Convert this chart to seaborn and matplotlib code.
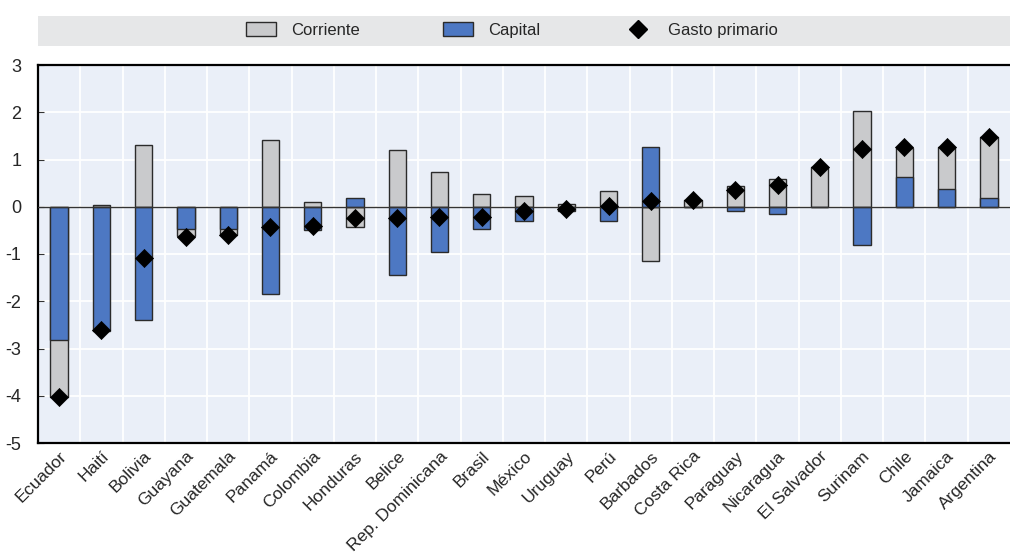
import pandas as pd
import seaborn as sns
from matplotlib import pyplot as plt
from matplotlib.patches import Patch, Rectangle
from matplotlib.lines import Line2D

OUT = 'out.png'

paises = ['Ecuador', 'Haití', 'Bolivia', 'Guayana', 'Guatemala', 'Panamá', 'Colombia',
          'Honduras', 'Belice', 'Rep. Dominicana', 'Brasil', 'México', 'Uruguay', 'Perú',
          'Barbados', 'Costa Rica', 'Paraguay', 'Nicaragua', 'El Salvador', 'Surinam',
          'Chile', 'Jamaica', 'Argentina']
corriente = [-1.20, 0.03, 1.30, -0.14, -0.12, 1.42, 0.10, -0.42, 1.21, 0.73, 0.28, 0.22,
             0.05, 0.33, -1.14, 0.15, 0.44, 0.59, 0.84, 2.03, 0.62, 0.89, 1.29]
capital = [-2.82, -2.64, -2.39, -0.47, -0.47, -1.84, -0.50, 0.18, -1.45, -0.95, -0.48, -0.30,
           -0.10, -0.31, 1.27, 0.00, -0.09, -0.16, 0.00, -0.80, 0.63, 0.38, 0.18]
gasto_primario = [-4.02, -2.60, -1.09, -0.63, -0.60, -0.43, -0.40, -0.24, -0.24, -0.22, -0.21,
                  -0.10, -0.05, 0.02, 0.13, 0.15, 0.36, 0.45, 0.84, 1.23, 1.27, 1.27, 1.48]
y_ticks = [-5, -4, -3, -2, -1, 0, 1, 2, 3]

GRIS = '#C9CACC'
AZUL = '#4D78C3'
FONDO = '#EAEFF8'

df = pd.DataFrame({'pais': paises, 'corriente': corriente,
                   'capital': capital, 'gasto': gasto_primario})
# corriente se apila sobre capital cuando tienen el mismo signo
df['tope'] = [c + k if c * k > 0 else c for c, k in zip(df['corriente'], df['capital'])]

sns.set_style('white')
plt.rcParams['font.family'] = ['Liberation Sans', 'DejaVu Sans']

fig = plt.figure(figsize=(10.1, 5.54), dpi=100)
ax = fig.add_axes([38 / 1010, 1 - 443 / 554, 1 - 38 / 1010, (443 - 65) / 554])
ax.set_facecolor(FONDO)

sns.barplot(data=df, x='pais', y='tope', color=GRIS, saturation=1, width=0.41,
            edgecolor='#2b2b2b', linewidth=1, ax=ax, zorder=2)
sns.barplot(data=df, x='pais', y='capital', color=AZUL, saturation=1, width=0.41,
            edgecolor='#2b2b2b', linewidth=1, ax=ax, zorder=2)
ax.axhline(0, color='#333333', lw=1, zorder=3)
sns.scatterplot(data=df, x='pais', y='gasto', marker='D', s=85, color='black',
                edgecolor='black', linewidth=0.5, ax=ax, zorder=4)

n = len(paises)
ax.set_xlim(-0.5, n - 0.5)
ax.set_ylim(-5, 3)
ax.set_yticks(y_ticks)
ax.set_yticklabels([str(v) for v in y_ticks], fontsize=13)
ax.set_xticks([i + 0.5 for i in range(n - 1)], minor=False)
ax.set_xticklabels([])
ax.set_xticks(range(n), minor=True)
ax.set_xticklabels(paises, minor=True, rotation=45, ha='right', rotation_mode='anchor',
                   fontsize=12.5)
ax.tick_params(axis='x', which='minor', length=0, pad=4)
ax.tick_params(axis='x', which='major', direction='in', length=4, color='#333333')
ax.tick_params(axis='y', direction='in', length=4, pad=12, color='#333333', left=True)
ax.grid(True, which='major', color='white', lw=1.3)
ax.set_axisbelow(True)
ax.set_xlabel('')
ax.set_ylabel('')
for side in ['left', 'bottom', 'top']:
    ax.spines[side].set_visible(True)
    ax.spines[side].set_color('black')
    ax.spines[side].set_linewidth(1.6)
ax.spines['right'].set_visible(False)

fig.add_artist(Rectangle((38 / 1010, 1 - 45.5 / 554), 1 - 38 / 1010, 30 / 554,
                         transform=fig.transFigure, facecolor='#E6E7E8',
                         edgecolor='none', zorder=0))
handles = [Patch(facecolor=GRIS, edgecolor='#2b2b2b', lw=1),
           Patch(facecolor=AZUL, edgecolor='#2b2b2b', lw=1),
           Line2D([], [], marker='D', color='black', ls='none', markersize=9)]
fig.legend(handles, ['Corriente', 'Capital', 'Gasto primario'], ncol=3, frameon=False,
           loc='center', bbox_to_anchor=(512 / 1010, 1 - 30 / 554), fontsize=12,
           handlelength=1.8, handleheight=0.85, handletextpad=0.9, columnspacing=5.0)

fig.savefig(OUT, dpi=100)
plt.close()
